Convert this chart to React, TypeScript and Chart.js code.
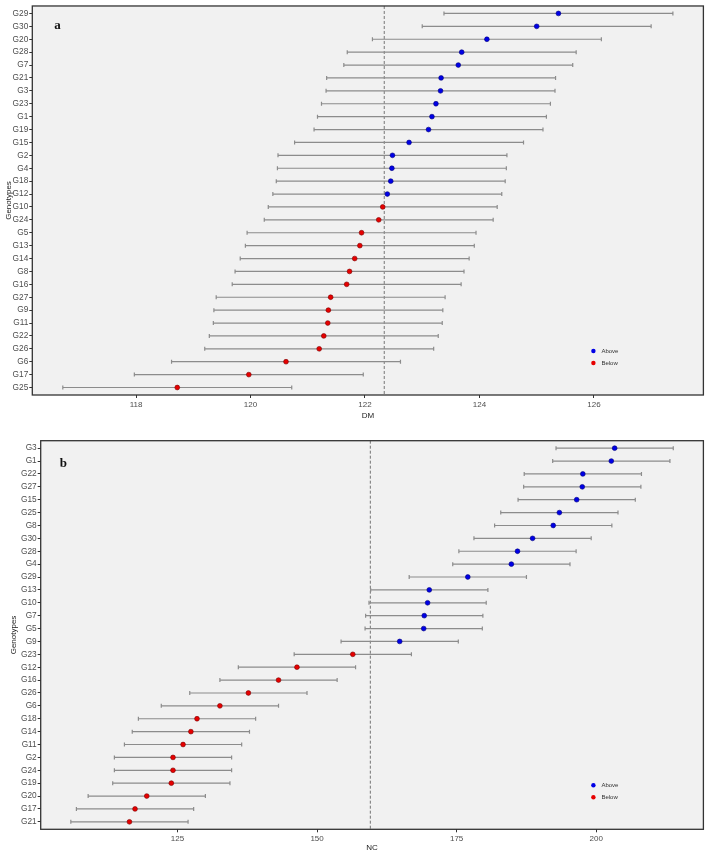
import React, { useEffect, useRef } from "react";
import { Chart, registerables } from "chart.js";

Chart.register(...registerables);

// Days to maturity (DM): genotype means, top to bottom
const DM_GENOTYPES = ["G29", "G30", "G20", "G28", "G7", "G21", "G3", "G23", "G1", "G19", "G15", "G2", "G4", "G18", "G12", "G10", "G24", "G5", "G13", "G14", "G8", "G16", "G27", "G9", "G11", "G22", "G26", "G6", "G17", "G25"];
const DM_MEANS = [125.38, 125.0, 124.13, 123.69, 123.63, 123.33, 123.32, 123.24, 123.17, 123.11, 122.77, 122.48, 122.47, 122.45, 122.39, 122.31, 122.24, 121.94, 121.91, 121.82, 121.73, 121.68, 121.4, 121.36, 121.35, 121.28, 121.2, 120.62, 119.97, 118.72];
const DM_ERROR = 2.0;
const DM_TICKS = [118, 120, 122, 124, 126];

// Number of capsules (NC): genotype means, top to bottom
const NC_GENOTYPES = ["G3", "G1", "G22", "G27", "G15", "G25", "G8", "G30", "G28", "G4", "G29", "G13", "G10", "G7", "G5", "G9", "G23", "G12", "G16", "G26", "G6", "G18", "G14", "G11", "G2", "G24", "G19", "G20", "G17", "G21"];
const NC_MEANS = [203.3, 202.7, 197.6, 197.5, 196.5, 193.4, 192.3, 188.6, 185.9, 184.8, 177.0, 170.1, 169.8, 169.2, 169.1, 164.8, 156.4, 146.4, 143.1, 137.7, 132.6, 128.5, 127.4, 126.0, 124.2, 124.2, 123.9, 119.5, 117.4, 116.4];
const NC_ERROR = 10.5;
const NC_TICKS = [125, 150, 175, 200];

const GROUP_LABELS = ["Above", "Below"];

type Panel = {
  tag: string;
  trait: string;
  genotypes: string[];
  means: number[];
  error: number;
  ticks: number[];
  height: number;
  padTop: number;
  yWidth: number;
  xHeight: number;
  xTitlePad: number;
  yTitlePad: number;
  tagDx: number;
  tagDy: number;
};

const PANELS: Panel[] = [
  {
    tag: "a", trait: "DM", genotypes: DM_GENOTYPES, means: DM_MEANS, error: DM_ERROR, ticks: DM_TICKS,
    height: 426, padTop: 1.5, yWidth: 32.3, xHeight: 31, xTitlePad: 5.5, yTitlePad: 4.2, tagDx: 22, tagDy: 23.5,
  },
  {
    tag: "b", trait: "NC", genotypes: NC_GENOTYPES, means: NC_MEANS, error: NC_ERROR, ticks: NC_TICKS,
    height: 427, padTop: 14.7, yWidth: 40.7, xHeight: 23.7, xTitlePad: 0, yTitlePad: 8.7, tagDx: 19, tagDy: 26,
  },
];

const SANS = "'Liberation Sans', Arial, sans-serif";
const ABOVE_FILL = "#0000e6";
const ABOVE_EDGE = "#00007a";
const BELOW_FILL = "#e60000";
const BELOW_EDGE = "#7a0000";

function decorPlugin(p: Panel, grand: number) {
  return {
    id: "panelDecor",
    beforeDraw(chart: any) {
      const { ctx, chartArea: a } = chart;
      ctx.save();
      ctx.fillStyle = "#f1f1f1";
      ctx.fillRect(a.left, a.top, a.right - a.left, a.bottom - a.top);
      ctx.restore();
    },
    beforeDatasetsDraw(chart: any) {
      const { ctx, chartArea: a } = chart;
      const xs = chart.scales.x;
      const ys = chart.scales.y;
      ctx.save();
      // grand mean reference line
      const mx = xs.getPixelForValue(grand);
      ctx.strokeStyle = "#555";
      ctx.lineWidth = 0.8;
      ctx.setLineDash([3, 2]);
      ctx.beginPath();
      ctx.moveTo(mx, a.top);
      ctx.lineTo(mx, a.bottom);
      ctx.stroke();
      ctx.setLineDash([]);
      // error bars with end caps
      ctx.strokeStyle = "#8c8c8c";
      ctx.lineWidth = 1.2;
      p.means.forEach((m, i) => {
        const py = ys.getPixelForValue(i);
        const x1 = xs.getPixelForValue(m - p.error);
        const x2 = xs.getPixelForValue(m + p.error);
        ctx.beginPath();
        ctx.moveTo(x1, py);
        ctx.lineTo(x2, py);
        ctx.moveTo(x1, py - 2);
        ctx.lineTo(x1, py + 2);
        ctx.moveTo(x2, py - 2);
        ctx.lineTo(x2, py + 2);
        ctx.stroke();
      });
      ctx.restore();
    },
    afterDraw(chart: any) {
      const { ctx, chartArea: a } = chart;
      ctx.save();
      // panel frame
      ctx.strokeStyle = "#333";
      ctx.lineWidth = 1.3;
      ctx.strokeRect(a.left, a.top, a.right - a.left, a.bottom - a.top);
      // panel tag
      ctx.fillStyle = "#111";
      ctx.font = "bold 13px 'Liberation Serif', 'Times New Roman', serif";
      ctx.textBaseline = "alphabetic";
      ctx.textAlign = "left";
      ctx.fillText(p.tag, a.left + p.tagDx, a.top + p.tagDy);
      // legend
      const lx = a.right - 110;
      chart.data.datasets.forEach((ds: any, k: number) => {
        const ly = a.bottom - 44 + k * 12;
        ctx.beginPath();
        ctx.arc(lx, ly, 2.2, 0, Math.PI * 2);
        ctx.fillStyle = ds.backgroundColor;
        ctx.fill();
        ctx.fillStyle = "#333";
        ctx.font = `6px ${SANS}`;
        ctx.textBaseline = "middle";
        ctx.fillText(ds.label, lx + 8, ly + 0.5);
      });
      ctx.restore();
    },
  };
}

function PanelChart({ p }: { p: Panel }) {
  const ref = useRef<HTMLCanvasElement | null>(null);

  useEffect(() => {
    if (!ref.current) return;
    const grand = p.means.reduce((s, v) => s + v, 0) / p.means.length;
    const lo = Math.min(...p.means) - p.error;
    const hi = Math.max(...p.means) + p.error;
    const pad = (hi - lo) * 0.05;
    const n = p.genotypes.length;

    const points = p.means.map((m, i) => ({ x: m, y: i }));
    const chart = new Chart(ref.current, {
      type: "scatter",
      data: {
        datasets: [
          {
            label: GROUP_LABELS[0],
            data: points.filter((d) => d.x >= grand),
            backgroundColor: ABOVE_FILL,
            borderColor: ABOVE_EDGE,
            borderWidth: 0.6,
            pointRadius: 2.4,
          },
          {
            label: GROUP_LABELS[1],
            data: points.filter((d) => d.x < grand),
            backgroundColor: BELOW_FILL,
            borderColor: BELOW_EDGE,
            borderWidth: 0.6,
            pointRadius: 2.4,
          },
        ],
      },
      options: {
        responsive: false,
        maintainAspectRatio: false,
        animation: false,
        events: [],
        layout: { padding: { top: p.padTop, right: 2.5, left: 0, bottom: 0 } },
        plugins: { legend: { display: false }, tooltip: { enabled: false } },
        scales: {
          x: {
            type: "linear",
            min: lo - pad,
            max: hi + pad,
            afterBuildTicks: (s: any) => {
              s.ticks = p.ticks.map((v) => ({ value: v }));
            },
            afterFit: (s: any) => {
              s.height = p.xHeight;
            },
            grid: { drawOnChartArea: false, drawTicks: true, tickLength: 3, color: "#333", lineWidth: 1 },
            border: { display: false },
            ticks: { font: { size: 8, family: SANS }, color: "#4d4d4d", padding: 2, maxRotation: 0, autoSkip: false },
            title: {
              display: true,
              text: p.trait,
              font: { size: 8, family: SANS },
              color: "#1a1a1a",
              padding: { top: 0, bottom: p.xTitlePad },
            },
          },
          y: {
            type: "linear",
            reverse: true,
            min: -0.58,
            max: n - 1 + 0.58,
            afterBuildTicks: (s: any) => {
              s.ticks = p.genotypes.map((_, i) => ({ value: i }));
            },
            afterFit: (s: any) => {
              s.width = p.yWidth;
            },
            grid: { drawOnChartArea: false, drawTicks: true, tickLength: 3, color: "#333", lineWidth: 1 },
            border: { display: false },
            ticks: {
              callback: (v: any) => p.genotypes[Math.round(Number(v))],
              font: { size: 8.3, family: SANS },
              color: "#4d4d4d",
              padding: 1,
              autoSkip: false,
            },
            title: {
              display: true,
              text: "Genotypes",
              font: { size: 8, family: SANS },
              color: "#1a1a1a",
              padding: { top: p.yTitlePad, bottom: 0 },
            },
          },
        },
      },
      plugins: [decorPlugin(p, grand)],
    } as any);
    return () => chart.destroy();
  }, [p]);

  return <canvas ref={ref} width={708} height={p.height} style={{ display: "block" }} />;
}

export default function App() {
  return (
    <div style={{ position: "absolute", left: 0, top: 0, width: 708, height: 853, background: "#ffffff" }}>
      {PANELS.map((p) => (
        <PanelChart key={p.tag} p={p} />
      ))}
    </div>
  );
}
